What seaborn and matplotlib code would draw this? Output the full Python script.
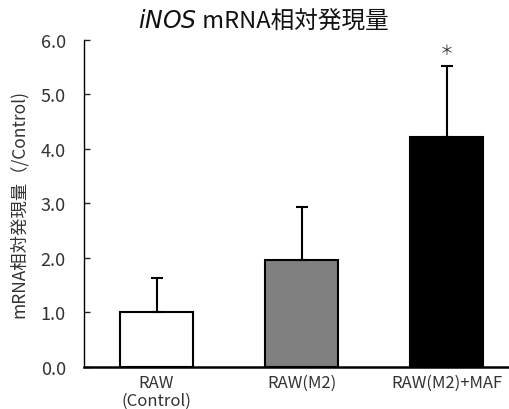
import matplotlib
matplotlib.use("Agg")
import matplotlib.pyplot as plt
import seaborn as sns
import pandas as pd

# Relative iNOS mRNA expression (normalised to control), mean and SD
categories = ["RAW\n(Control)", "RAW(M2)", "RAW(M2)+MAF"]
means = [1.00, 1.95, 4.22]
sds = [0.62, 0.99, 1.30]
bar_colors = ["#ffffff", "#808080", "#000000"]
y_ticks = [0.0, 1.0, 2.0, 3.0, 4.0, 5.0, 6.0]
significance = ["", "", "＊"]

sns.set_theme(style="white")
plt.rcParams["font.family"] = ["Noto Sans CJK JP", "DejaVu Sans"]

df = pd.DataFrame({"group": categories, "value": means})

fig = plt.figure(figsize=(5.1, 4.1), dpi=100)
ax = fig.add_axes([0.1647, 0.1032, 0.853, 0.797])

sns.barplot(data=df, x="group", y="value", hue="group", palette=bar_colors,
            order=categories, hue_order=categories, width=0.5,
            edgecolor="black", linewidth=1.5, legend=False, ax=ax, errorbar=None)

# one-sided (upper) error bars
xs = [p.get_x() + p.get_width() / 2 for p in ax.patches]
ax.errorbar(xs, means, yerr=[[0] * len(sds), sds], fmt="none", ecolor="black",
            elinewidth=1.5, capsize=4, capthick=1.5, zorder=1)

for x, m, s, mark in zip(xs, means, sds, significance):
    if mark:
        ax.text(x, m + s + 0.3, mark, ha="center", va="center", fontsize=10,
                color="#333333", clip_on=False)

ax.set_xlim(-0.5, 2.5)
ax.set_ylim(0, 6)
ax.set_yticks(y_ticks)
ax.set_yticklabels([f"{t:.1f}" for t in y_ticks], fontsize=13, color="#333333")
ax.tick_params(axis="y", direction="in", length=4, width=1, left=True, pad=13)
ax.tick_params(axis="x", length=0, pad=5, labelsize=12, labelcolor="#333333")
for lbl in ax.get_xticklabels():
    lbl.set_linespacing(1.1)
ax.set_xlabel("")
ax.set_ylabel("mRNA相対発現量（/Control)", fontsize=12.5, color="#333333", labelpad=9)

for side in ["top", "right"]:
    ax.spines[side].set_visible(False)
ax.spines["left"].set_color("black")
ax.spines["left"].set_linewidth(1.0)
ax.spines["bottom"].set_color("black")
ax.spines["bottom"].set_linewidth(1.8)

fig.text(0.386, 0.975, r"$\it{iNOS}$", fontsize=17, ha="right", va="top",
         color="#111111")
fig.text(0.386, 0.975, " mRNA相対発現量", fontsize=17, ha="left", va="top",
         color="#111111")

fig.savefig("out.png", dpi=100)
